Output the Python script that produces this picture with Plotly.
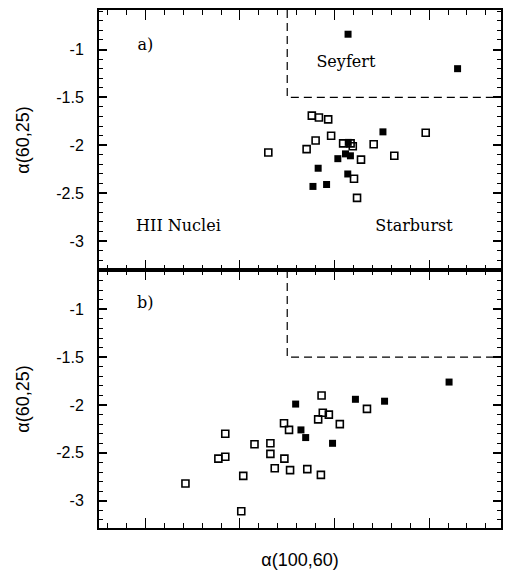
import plotly.graph_objects as go
from plotly.subplots import make_subplots

# Panel a) — alpha(100,60) vs alpha(60,25)
a_open_x = [-1.70, -1.24, -1.165, -1.067, -1.036, -1.20, -1.295, -0.909, -0.807, -0.586,
            -0.72, -0.368, -0.036, -0.794, -0.762, -0.83]
a_open_y = [-2.075, -1.69, -1.71, -1.73, -1.90, -1.95, -2.04, -1.98, -2.01, -1.99,
            -2.15, -2.11, -1.87, -2.35, -2.55, -1.98]
a_fill_x = [-0.857, 0.301, -0.488, -1.173, -1.228, -1.084, -0.965, -0.884, -0.832, -0.86, -0.855]
a_fill_y = [-0.84, -1.20, -1.86, -2.24, -2.43, -2.41, -2.14, -2.09, -2.11, -2.30, -1.97]

# Panel b)
b_open_x = [-2.576, -2.228, -2.155, -2.155, -1.965, -1.986, -1.846, -1.678, -1.678, -1.632,
            -1.53, -1.534, -1.481, -1.47, -1.288, -1.144, -1.137, -1.173, -1.124, -1.06,
            -0.944, -0.657]
b_open_y = [-2.82, -2.56, -2.54, -2.30, -2.74, -3.11, -2.41, -2.40, -2.51, -2.66,
            -2.56, -2.19, -2.26, -2.68, -2.67, -2.73, -1.90, -2.15, -2.08, -2.10,
            -2.20, -2.04]
b_fill_x = [-1.411, -1.355, -1.305, -1.021, -0.779, -0.471, 0.211]
b_fill_y = [-1.99, -2.26, -2.34, -2.40, -1.94, -1.96, -1.76]

# Classification boundaries
x_cut = -1.5
seyfert_y = -1.5
hii_y = -2.0

# Region / panel labels
a_label_text = ["a)", "Seyfert", "HII Nuclei", "Starburst"]
a_label_x = [-3.0, -0.88, -2.65, -0.16]
a_label_y = [-0.96, -1.14, -2.85, -2.85]
b_label_text = ["b)"]
b_label_x = [-3.0]
b_label_y = [-0.948]

y_ticks = [-3, -2.5, -2, -1.5, -1]
y_tick_text = ["-3", "-2.5", "-2", "-1.5", "-1"]

x_range = [-3.49, 0.76]
ya_range = [-3.303, -0.587]
yb_range = [-3.285, -0.589]

fig = make_subplots(rows=2, cols=1, vertical_spacing=0)

serif = dict(family="DejaVu Serif", size=16, color="black")
sans = dict(family="Liberation Sans", size=18, color="black")

panels = [
    (1, a_open_x, a_open_y, a_fill_x, a_fill_y, ya_range, a_label_x, a_label_y, a_label_text),
    (2, b_open_x, b_open_y, b_fill_x, b_fill_y, yb_range, b_label_x, b_label_y, b_label_text),
]
dash = "8px,5px"
for row, ox, oy, fx, fy, yr, lx, ly, lt in panels:
    fig.add_trace(go.Scatter(x=ox, y=oy, mode="markers",
                             marker=dict(symbol="square-open", size=7, color="black",
                                         line=dict(width=1.6, color="black")),
                             showlegend=False), row=row, col=1)
    fig.add_trace(go.Scatter(x=fx, y=fy, mode="markers",
                             marker=dict(symbol="square", size=7, color="black"),
                             showlegend=False), row=row, col=1)
    # Seyfert box
    fig.add_trace(go.Scatter(x=[x_cut, x_cut, x_range[1]], y=[yr[1], seyfert_y, seyfert_y],
                             mode="lines", line=dict(color="black", width=1.2, dash=dash),
                             showlegend=False, hoverinfo="skip"), row=row, col=1)
    # Region labels
    fig.add_trace(go.Scatter(x=lx, y=ly, text=lt, mode="text", textfont=serif,
                             textposition="middle center", showlegend=False,
                             hoverinfo="skip"), row=row, col=1)

    fig.update_xaxes(range=x_range, showticklabels=False, showgrid=False, zeroline=False,
                     showline=True, linecolor="black", linewidth=2, mirror="allticks",
                     ticks="inside", tick0=0, dtick=1, ticklen=10, tickwidth=1.3,
                     tickcolor="black",
                     minor=dict(ticks="inside", dtick=0.2, ticklen=5, tickwidth=1.2,
                                tickcolor="black", showgrid=False),
                     row=row, col=1)
    fig.update_yaxes(range=yr, showgrid=False, zeroline=False,
                     showline=True, linecolor="black", linewidth=2, mirror="allticks",
                     ticks="inside", tickvals=y_ticks, ticktext=y_tick_text,
                     ticklen=8, tickwidth=1.5, tickcolor="black", ticklabelstandoff=10,
                     tickfont=dict(family="Liberation Sans", size=16, color="black"),
                     minor=dict(ticks="inside", dtick=0.1, tick0=0, ticklen=4, tickwidth=1.2,
                                tickcolor="black", showgrid=False),
                     title=dict(text="α(60,25)", font=sans, standoff=22),
                     row=row, col=1)

fig.update_xaxes(title=dict(text="α(100,60)", font=sans, standoff=24), row=2, col=1)

h_total = 518
fig.update_layout(
    width=505, height=571,
    margin=dict(l=99, r=2, t=10, b=43),
    plot_bgcolor="white", paper_bgcolor="white",
)
fig.layout.yaxis.domain = [258 / h_total, 1]
fig.layout.yaxis2.domain = [0, 258 / h_total]

fig.write_html("out.html")
